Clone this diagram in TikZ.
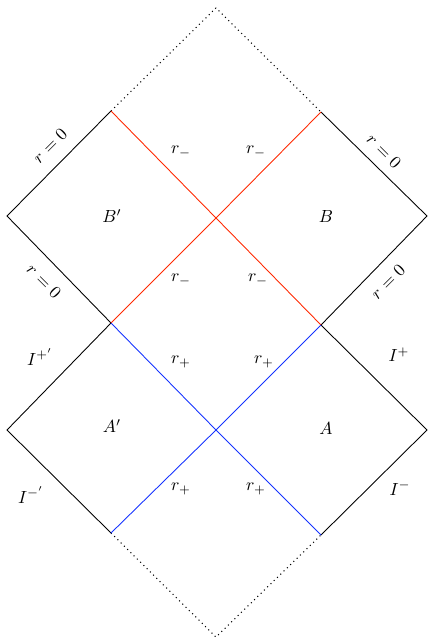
\documentclass[tikz,border=0pt]{standalone}
\begin{document}
\begin{tikzpicture}[x=0.02cm,y=-0.02cm,
  edge/.style={black, line width=0.5pt},
  dot/.style={black, dotted, line width=0.6pt},
  hred/.style={draw={rgb,255:red,255;green,40;blue,0}, line width=0.5pt},
  hblue/.style={draw={rgb,255:red,20;green,50;blue,255}, line width=0.5pt},
  lbl/.style={inner sep=1pt}]
\useasboundingbox (0,0) rectangle (427,639);
% grid coordinates
\coordinate (T) at (216,8);
\coordinate (UL) at (111,111);
\coordinate (UR) at (321,112);
\coordinate (L1) at (7,216);
\coordinate (R1) at (427,216);
\coordinate (C1) at (216,218);
\coordinate (ML) at (111,323);
\coordinate (MR) at (321,325);
\coordinate (L2) at (7,430);
\coordinate (R2) at (427,430);
\coordinate (C2) at (216,430);
\coordinate (BL) at (111,533);
\coordinate (BR) at (321,535);
\coordinate (B) at (216,637);
% outer edges
\draw[edge] (UL) -- (L1) -- (ML) -- (L2) -- (BL);
\draw[edge] (UR) -- (R1) -- (MR) -- (R2) -- (BR);
\draw[dot] (UL) -- (T) -- (UR);
\draw[dot] (BL) -- (B) -- (BR);
% horizons
\draw[hred] (UL) -- (C1) -- (MR);
\draw[hred] (UR) -- (C1) -- (ML);
\draw[hblue] (ML) -- (C2) -- (BR);
\draw[hblue] (MR) -- (C2) -- (BL);
% labels
\node[lbl, rotate=45] (r0a) at (50,146) {$r=0$};
\node[lbl, rotate=-45] (r0b) at (44,281) {$r=0$};
\node[lbl, rotate=-45] (r0c) at (384,151) {$r=0$};
\node[lbl, rotate=45] (r0d) at (388,282) {$r=0$};
\node (Bp) at (112,216) {$B'$};
\node (Bn) at (326,216) {$B$};
\node (Ap) at (112,426) {$A'$};
\node (An) at (326,428) {$A$};
\node (m1) at (181,152) {$r_-$};
\node (m2) at (256,152) {$r_-$};
\node (m3) at (181,280) {$r_-$};
\node (m4) at (258,280) {$r_-$};
\node (p1) at (181,362) {$r_+$};
\node (p2) at (264,362) {$r_+$};
\node (p3) at (181,489) {$r_+$};
\node (p4) at (256,489) {$r_+$};
\node (Ipp) at (40,357) {$I^{+'}$};
\node (Ip) at (399,355) {$I^{+}$};
\node (Imp) at (31,495) {$I^{-'}$};
\node (Im) at (400,488) {$I^{-}$};
\end{tikzpicture}
\end{document}
